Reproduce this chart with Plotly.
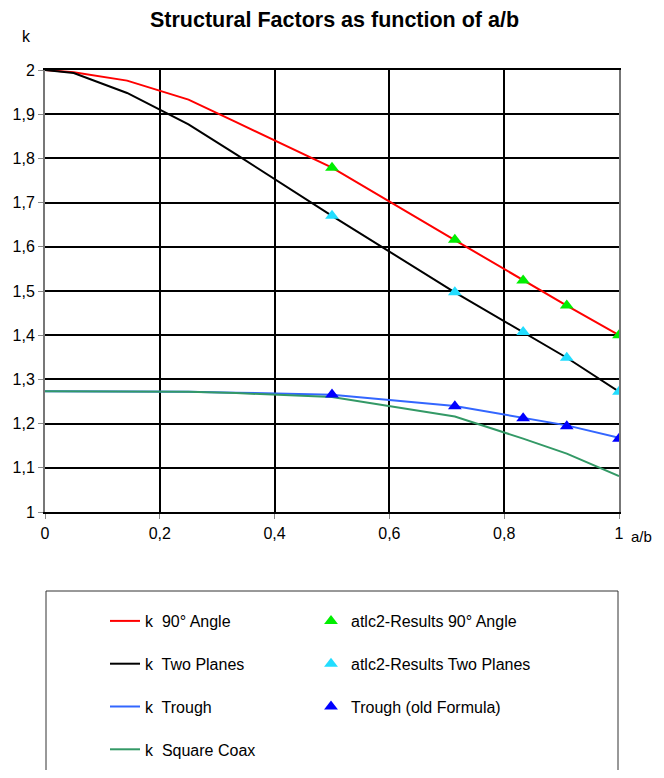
import plotly.graph_objects as go

# ---- data ----
ab_curve = [0, 0.05, 0.143, 0.25, 0.333, 0.4, 0.5, 0.714, 0.833, 0.909, 1.0]
k_90_angle = [2.0, 1.995, 1.976, 1.933, 1.882, 1.841, 1.779, 1.615, 1.524, 1.467, 1.400]
k_two_planes = [2.0, 1.993, 1.948, 1.877, 1.809, 1.754, 1.670, 1.497, 1.407, 1.349, 1.272]
k_trough = [1.273, 1.273, 1.273, 1.272, 1.270, 1.268, 1.265, 1.240, 1.214, 1.196, 1.168]
k_square_coax = [1.273, 1.273, 1.273, 1.272, 1.269, 1.265, 1.260, 1.216, 1.166, 1.132, 1.081]

ab_results = [0.5, 0.714, 0.833, 0.909, 1.0]
atlc_90_angle = [1.779, 1.616, 1.524, 1.467, 1.400]
atlc_two_planes = [1.670, 1.497, 1.407, 1.349, 1.272]
trough_old = [1.266, 1.239, 1.212, 1.194, 1.166]

x_ticks = [0, 0.2, 0.4, 0.6, 0.8, 1.0]
y_ticks = [1.0, 1.1, 1.2, 1.3, 1.4, 1.5, 1.6, 1.7, 1.8, 1.9, 2.0]

FONT = "Liberation Sans, Arial, sans-serif"

fig = go.Figure()

line_series = [
    ("k  90° Angle", k_90_angle, "#FF0000"),
    ("k  Two Planes", k_two_planes, "#000000"),
    ("k  Trough", k_trough, "#3366FF"),
    ("k  Square Coax", k_square_coax, "#339966"),
]
for i, (name, ys, col) in enumerate(line_series):
    fig.add_trace(go.Scatter(
        x=ab_curve, y=ys, mode="lines", name=name,
        line=dict(color=col, width=2),
        legend="legend", legendgroup="l%d" % i,
    ))

marker_series = [
    ("atlc2-Results 90° Angle", atlc_90_angle, "#00EE00"),
    ("atlc2-Results Two Planes", atlc_two_planes, "#22DDFF"),
    ("Trough (old Formula)", trough_old, "#0000FF"),
]
for i, (name, ys, col) in enumerate(marker_series):
    fig.add_trace(go.Scatter(
        x=ab_results, y=ys, mode="markers", name=name,
        marker=dict(symbol="triangle-up", size=12, color=col, line=dict(width=0)),
        legend="legend2", legendgroup="m%d" % i,
    ))

# The page body has an 8px margin; the figure is sized so the page does not
# scroll, and all target pixel positions are shifted by that offset.
OFF = 8
W, H = 664 - OFF, 778 - 2 * OFF
PLOT_L, PLOT_R, PLOT_T, PLOT_B = 45, 619, 70, 512  # target picture pixels
ML = PLOT_L - OFF
MR = W - (PLOT_R - OFF)
MT = PLOT_T - OFF
MB = H - (PLOT_B - OFF)
pw = W - ML - MR
ph = H - MT - MB


def px_x(p):
    return (p - OFF - ML) / pw


def px_y(p):
    return (H - MB - (p - OFF)) / ph


legend_common = dict(
    font=dict(family=FONT, size=16, color="#000000"),
    bgcolor="rgba(0,0,0,0)", borderwidth=0,
    tracegroupgap=19, yanchor="top", xanchor="left",
    itemclick=False, itemdoubleclick=False,
)

fig.update_layout(
    width=W, height=H,
    margin=dict(l=ML, r=MR, t=MT, b=MB, autoexpand=False),
    paper_bgcolor="#FFFFFF", plot_bgcolor="#FFFFFF",
    separators=", ",
    font=dict(family=FONT, size=16, color="#000000"),
    title=dict(text="<b>Structural Factors as function of a/b</b>",
               font=dict(family=FONT, size=21.5, color="#000000"),
               x=(334.5 - OFF) / W, xanchor="center", y=1 - (19 - OFF) / H, yanchor="middle"),
    showlegend=True,
    legend=dict(x=px_x(105), y=px_y(604), **legend_common),
    legend2=dict(x=px_x(311), y=px_y(604), **legend_common),
    xaxis=dict(range=[0, 1], tickvals=x_ticks, showgrid=True, gridcolor="#000000", gridwidth=2,
               zeroline=False, showline=True, linecolor="#000000", linewidth=2, mirror=True,
               ticks="outside", ticklen=5, tickcolor="#888888", tickwidth=1,
               ticklabelstandoff=1,
               tickfont=dict(family=FONT, size=16, color="#000000")),
    yaxis=dict(range=[1, 2], tickvals=y_ticks, showgrid=True, gridcolor="#000000", gridwidth=2,
               zeroline=False, showline=True, linecolor="#777777", linewidth=2, mirror=True,
               ticks="outside", ticklen=5, tickcolor="#888888", tickwidth=1,
               tickfont=dict(family=FONT, size=16, color="#000000")),
    shapes=[dict(type="rect", xref="paper", yref="paper",
                 x0=px_x(46), x1=px_x(618), y0=px_y(591), y1=px_y(800),
                 line=dict(color="#333333", width=1), fillcolor="rgba(0,0,0,0)", layer="below")],
    annotations=[
        dict(text="k", xref="paper", yref="paper", x=px_x(26), y=px_y(36),
             showarrow=False, xanchor="center", yanchor="middle",
             font=dict(family=FONT, size=16, color="#000000")),
        dict(text="a/b", xref="paper", yref="paper", x=px_x(654), y=px_y(536),
             showarrow=False, xanchor="right", yanchor="middle",
             font=dict(family=FONT, size=15, color="#000000")),
    ],
)

fig.write_html("out.html")
